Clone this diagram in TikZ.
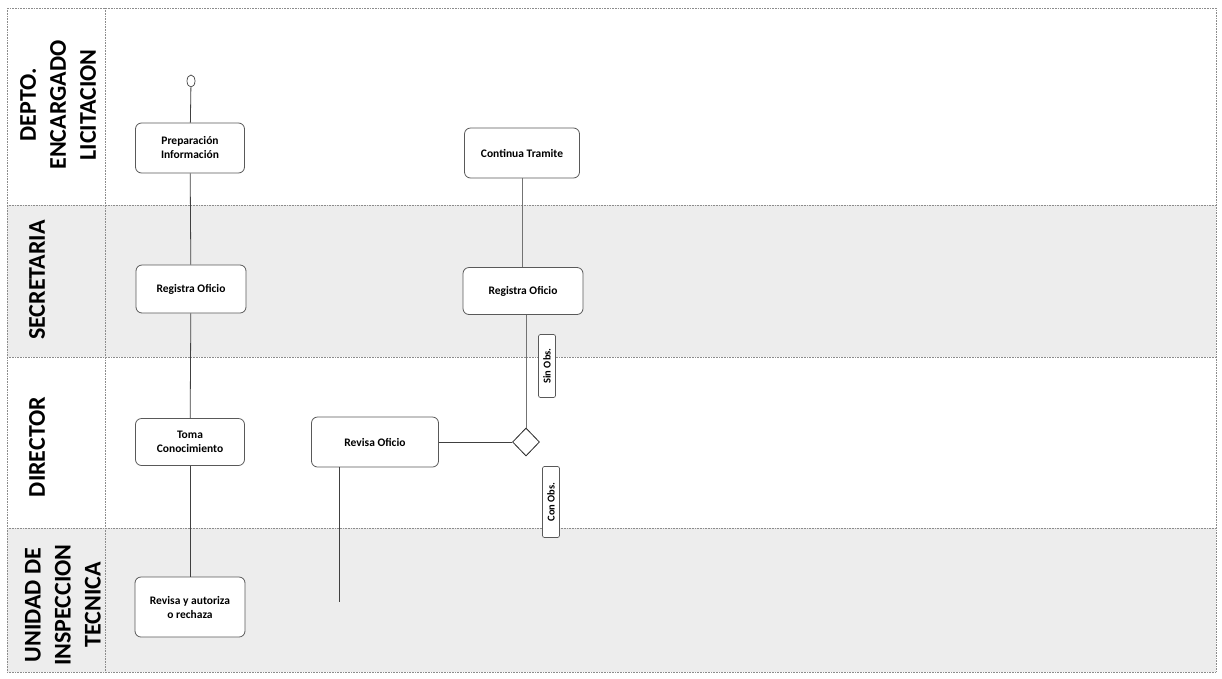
\documentclass[tikz,border=0pt]{standalone}
\usepackage{fontspec}
\setmainfont{Carlito}
\usetikzlibrary{shapes.geometric}
\begin{document}
\begin{tikzpicture}[x=1pt,y=-1pt,
  lanefill/.style={fill=black!7},
  laneline/.style={draw=black!45,line width=0.6pt,densely dotted},
  lanehead/.style={rotate=90,font=\bfseries\fontsize{24}{30}\selectfont,align=center,inner sep=0pt},
  actbox/.style={draw=black!65,line width=0.8pt,rounded corners=6pt,fill=white,align=center,font=\bfseries\fontsize{11.5}{14}\selectfont,inner sep=0pt},
  tag/.style={draw=black!65,line width=0.7pt,rounded corners=2pt,fill=white,rotate=90,font=\bfseries\fontsize{10.5}{12}\selectfont,inner sep=0pt},
  flow/.style={draw=black!75,line width=0.8pt},
  faint/.style={draw=black!55,line width=0.7pt}]
\useasboundingbox (0,0) rectangle (1222,678);
\fill[white] (0,0) rectangle (1222,678);
% lanes
\path[lanefill] (7,205) rectangle (1216,357);
\path[lanefill] (7,528) rectangle (1216,672);
\draw[laneline] (7,8) rectangle (1216,672);
\draw[laneline] (7,205) -- (1216,205);
\draw[laneline] (7,357) -- (1216,357);
\draw[laneline] (7,528) -- (1216,528);
\draw[laneline] (105,8) -- (105,672);
% lane headings
\node[lanehead] (h1) at (58,105) {DEPTO.\\ENCARGADO\\LICITACION};
\node[lanehead] (h2) at (37,280) {SECRETARIA};
\node[lanehead] (h3) at (37,447) {DIRECTOR};
\node[lanehead] (h4) at (63,605) {UNIDAD DE\\INSPECCION\\TECNICA};
% nodes
\node[draw=black!75,line width=0.7pt,ellipse,minimum width=8pt,minimum height=12pt,inner sep=0pt,fill=white] (start) at (191,81) {};
\node[actbox,minimum width=109pt,minimum height=50pt] (prep) at (190,148) {Preparación\\Información};
\node[actbox,minimum width=110pt,minimum height=48pt] (reg1) at (191,289) {Registra Oficio};
\node[actbox,minimum width=109pt,minimum height=47pt] (toma) at (190,442) {Toma\\Conocimiento};
\node[actbox,minimum width=110pt,minimum height=60pt] (revaut) at (190,607) {Revisa y autoriza\\o rechaza};
\node[actbox,minimum width=115pt,minimum height=50pt] (cont) at (522,153) {Continua Tramite};
\node[actbox,minimum width=120pt,minimum height=47pt] (reg2) at (523,291) {Registra Oficio};
\node[actbox,minimum width=127pt,minimum height=50pt] (revisa) at (375,442) {Revisa Oficio};
\node[draw=black!85,line width=0.8pt,diamond,minimum width=27pt,minimum height=28pt,inner sep=0pt,fill=white] (dec) at (526,442) {};
\node[tag,minimum width=63pt,minimum height=17pt] (sin) at (547,366) {Sin Obs.};
\node[tag,minimum width=71pt,minimum height=17pt] (con) at (551,502) {Con Obs.};
\coordinate (revend) at (339,602);
% connectors
\draw[flow] (start) -- (prep);
\draw[flow] (prep) -- (reg1);
\draw[flow] (reg1) -- (toma);
\draw[flow] (toma) -- (revaut);
\draw[flow] (revisa.east) -- (dec.west);
\draw[faint] (dec.north) -- (dec.north |- reg2.south);
\draw[faint] (reg2.north -| cont.south) -- (cont.south);
\draw[flow] (revisa.south -| revend) -- (revend);
\end{tikzpicture}
\end{document}
